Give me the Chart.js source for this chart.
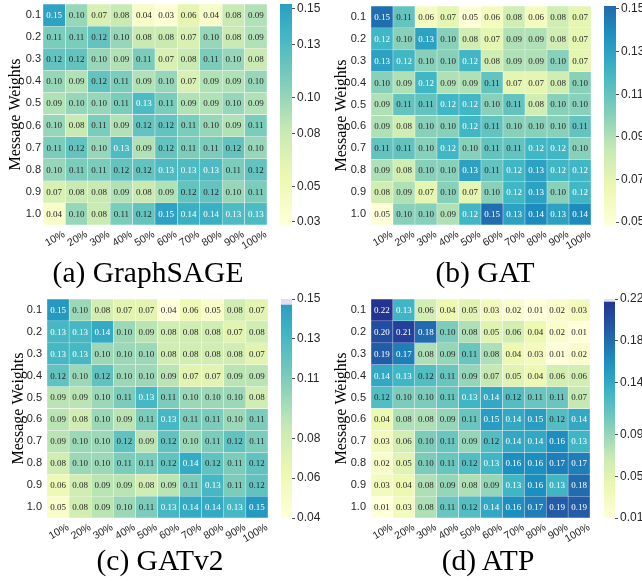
<!DOCTYPE html>
<html>
<head>
<meta charset="utf-8">
<script src="https://cdn.jsdelivr.net/npm/chart.js@4.4.1/dist/chart.umd.min.js"></script>
<style>
body { margin: 0; background: #fff; width: 642px; height: 583px; position: relative; overflow: hidden; }
canvas { position: absolute; }
.cap { position: absolute; width: 300px; text-align: center; font: 29.5px 'Liberation Serif', 'Times New Roman', serif; line-height: 28px; color: #000; }
</style>
</head>
<body>
<canvas id="hmA" width="270" height="255" style="left:0;top:0"></canvas>
<canvas id="cbA" width="56" height="235" style="left:270px;top:0"></canvas>
<canvas id="hmB" width="268" height="255" style="left:326px;top:0"></canvas>
<canvas id="cbB" width="48" height="235" style="left:594px;top:0"></canvas>
<canvas id="hmC" width="271" height="255" style="left:0;top:294px"></canvas>
<canvas id="cbC" width="56" height="242" style="left:270px;top:286px"></canvas>
<canvas id="hmD" width="268" height="255" style="left:326px;top:294px"></canvas>
<canvas id="cbD" width="48" height="242" style="left:594px;top:286px"></canvas>
<div class="cap" id="capA" style="left:-2px;top:258px"></div>
<div class="cap" id="capB" style="left:335px;top:258px"></div>
<div class="cap" id="capC" style="left:10px;top:545.5px"></div>
<div class="cap" id="capD" style="left:338px;top:545.5px"></div>
<script>
// rows = message weights, columns = percentage
var rowLabels = ['0.1', '0.2', '0.3', '0.4', '0.5', '0.6', '0.7', '0.8', '0.9', '1.0'];
var colLabels = ['10%', '20%', '30%', '40%', '50%', '60%', '70%', '80%', '90%', '100%'];

var sageVals = [
    [0.15, 0.10, 0.07, 0.08, 0.04, 0.03, 0.06, 0.04, 0.08, 0.09],
    [0.11, 0.11, 0.12, 0.10, 0.08, 0.08, 0.07, 0.10, 0.08, 0.09],
    [0.12, 0.12, 0.10, 0.09, 0.11, 0.07, 0.08, 0.11, 0.10, 0.08],
    [0.10, 0.09, 0.12, 0.11, 0.09, 0.10, 0.07, 0.09, 0.09, 0.10],
    [0.09, 0.10, 0.10, 0.11, 0.13, 0.11, 0.09, 0.09, 0.10, 0.09],
    [0.10, 0.08, 0.11, 0.09, 0.12, 0.12, 0.11, 0.10, 0.09, 0.11],
    [0.11, 0.12, 0.10, 0.13, 0.09, 0.12, 0.11, 0.11, 0.12, 0.10],
    [0.10, 0.11, 0.11, 0.12, 0.12, 0.13, 0.13, 0.13, 0.11, 0.12],
    [0.07, 0.08, 0.08, 0.09, 0.08, 0.09, 0.12, 0.12, 0.10, 0.11],
    [0.04, 0.10, 0.08, 0.11, 0.12, 0.15, 0.14, 0.14, 0.13, 0.13]
];
var gatVals = [
    [0.15, 0.11, 0.06, 0.07, 0.05, 0.06, 0.08, 0.06, 0.08, 0.07],
    [0.12, 0.10, 0.13, 0.10, 0.08, 0.07, 0.09, 0.09, 0.08, 0.07],
    [0.13, 0.12, 0.10, 0.10, 0.12, 0.08, 0.09, 0.09, 0.10, 0.07],
    [0.10, 0.09, 0.12, 0.09, 0.09, 0.11, 0.07, 0.07, 0.08, 0.10],
    [0.09, 0.11, 0.11, 0.12, 0.12, 0.10, 0.11, 0.08, 0.10, 0.10],
    [0.09, 0.08, 0.10, 0.10, 0.12, 0.11, 0.10, 0.10, 0.10, 0.11],
    [0.11, 0.11, 0.10, 0.12, 0.10, 0.11, 0.11, 0.12, 0.12, 0.10],
    [0.09, 0.08, 0.10, 0.10, 0.13, 0.11, 0.12, 0.13, 0.12, 0.12],
    [0.08, 0.09, 0.07, 0.10, 0.07, 0.10, 0.12, 0.13, 0.10, 0.12],
    [0.05, 0.10, 0.10, 0.09, 0.12, 0.15, 0.13, 0.14, 0.13, 0.14]
];
var gatv2Vals = [
    [0.15, 0.10, 0.08, 0.07, 0.07, 0.04, 0.06, 0.05, 0.08, 0.07],
    [0.13, 0.13, 0.14, 0.10, 0.09, 0.08, 0.08, 0.08, 0.07, 0.08],
    [0.13, 0.13, 0.10, 0.10, 0.10, 0.08, 0.08, 0.08, 0.08, 0.07],
    [0.12, 0.10, 0.12, 0.10, 0.10, 0.09, 0.07, 0.07, 0.09, 0.09],
    [0.09, 0.09, 0.10, 0.11, 0.13, 0.11, 0.10, 0.10, 0.10, 0.08],
    [0.09, 0.08, 0.10, 0.09, 0.11, 0.13, 0.11, 0.11, 0.10, 0.11],
    [0.09, 0.10, 0.10, 0.12, 0.09, 0.12, 0.10, 0.11, 0.12, 0.11],
    [0.08, 0.10, 0.10, 0.11, 0.11, 0.12, 0.14, 0.12, 0.11, 0.12],
    [0.06, 0.08, 0.09, 0.09, 0.08, 0.09, 0.11, 0.13, 0.11, 0.12],
    [0.05, 0.08, 0.09, 0.10, 0.11, 0.13, 0.14, 0.14, 0.13, 0.15]
];
var atpVals = [
    [0.22, 0.13, 0.06, 0.04, 0.05, 0.03, 0.02, 0.01, 0.02, 0.03],
    [0.20, 0.21, 0.18, 0.10, 0.08, 0.05, 0.06, 0.04, 0.02, 0.01],
    [0.19, 0.17, 0.08, 0.09, 0.11, 0.08, 0.04, 0.03, 0.01, 0.02],
    [0.14, 0.13, 0.12, 0.11, 0.09, 0.07, 0.05, 0.04, 0.06, 0.06],
    [0.12, 0.10, 0.10, 0.11, 0.13, 0.14, 0.12, 0.11, 0.11, 0.07],
    [0.04, 0.08, 0.08, 0.09, 0.11, 0.15, 0.14, 0.15, 0.12, 0.14],
    [0.03, 0.06, 0.10, 0.11, 0.09, 0.12, 0.14, 0.14, 0.16, 0.13],
    [0.02, 0.05, 0.10, 0.11, 0.12, 0.13, 0.16, 0.16, 0.17, 0.17],
    [0.03, 0.04, 0.08, 0.09, 0.08, 0.09, 0.13, 0.16, 0.13, 0.18],
    [0.01, 0.03, 0.08, 0.11, 0.12, 0.14, 0.16, 0.17, 0.19, 0.19]
];

var sageTicks = [0.03, 0.05, 0.08, 0.10, 0.13, 0.15];
var gatTicks = [0.05, 0.07, 0.09, 0.11, 0.13, 0.15];
var gatv2Ticks = [0.04, 0.06, 0.08, 0.11, 0.13, 0.15];
var atpTicks = [0.01, 0.05, 0.09, 0.14, 0.18, 0.22];

var titles = ['(a) GraphSAGE', '(b) GAT', '(c) GATv2', '(d) ATP'];

var SERIF = "'Liberation Serif', 'Times New Roman', serif";
Chart.defaults.font.family = "'Liberation Sans', Arial, sans-serif";
Chart.defaults.color = '#262626';
Chart.defaults.animation = false;
Chart.defaults.plugins.legend.display = false;
Chart.defaults.plugins.tooltip.enabled = false;

var YLGNBU = [[255,255,217],[237,248,177],[199,233,180],[127,205,187],[65,182,196],
              [29,145,192],[34,94,168],[37,52,148],[8,29,88]];

function ylgnbu(t) {
    t = Math.max(0, Math.min(1, t));
    var n = YLGNBU.length - 1;
    var p = t * n;
    var i = Math.min(Math.floor(p), n - 1);
    var f = p - i;
    return YLGNBU[i].map(function (c, k) { return c + (YLGNBU[i + 1][k] - c) * f; });
}
function rgbStr(c) {
    return 'rgb(' + c.map(Math.round).join(',') + ')';
}
function lum(c) {
    var l = c.map(function (x) {
        x = x / 255;
        return x <= 0.03928 ? x / 12.92 : Math.pow((x + 0.055) / 1.055, 2.4);
    });
    return 0.2126 * l[0] + 0.7152 * l[1] + 0.0722 * l[2];
}
function valueColor(v, cm) {
    return ylgnbu(cm.hi * (v - cm.cmin) / (cm.cmax - cm.cmin));
}

// writes the number in each cell
var cellText = {
    id: 'cellText',
    afterDatasetsDraw: function (chart) {
        var ctx = chart.ctx;
        ctx.save();
        ctx.font = '9px ' + SERIF;
        ctx.textAlign = 'center';
        ctx.textBaseline = 'middle';
        chart.data.datasets.forEach(function (ds, i) {
            chart.getDatasetMeta(i).data.forEach(function (bar, j) {
                var p = bar.getProps(['x', 'y', 'base'], true);
                ctx.fillStyle = lum(ds.rgb[j]) > 0.42 ? '#262626' : '#ffffff';
                ctx.fillText(ds.values[j].toFixed(2), p.x, (p.y + p.base) / 2 + 0.5);
            });
        });
        ctx.restore();
    }
};

function heatmap(id, vals, cm, g) {
    var datasets = rowLabels.map(function (r, i) {
        var rgb = vals[i].map(function (v) { return valueColor(v, cm); });
        return {
            label: r,
            data: colLabels.map(function () { return 1; }),
            values: vals[i],
            rgb: rgb,
            backgroundColor: rgb.map(rgbStr),
            borderColor: 'rgba(255,255,255,0.5)',
            borderWidth: 0.5,
            borderSkipped: false,
            barPercentage: 1,
            categoryPercentage: 1
        };
    });
    new Chart(document.getElementById(id), {
        type: 'bar',
        data: { labels: colLabels, datasets: datasets },
        options: {
            responsive: false,
            layout: { padding: { top: g.top, right: g.right, left: 0, bottom: 0 } },
            scales: {
                x: {
                    stacked: true,
                    grid: { display: false, drawTicks: false },
                    border: { display: false },
                    ticks: { autoSkip: false, minRotation: 30, maxRotation: 30, labelOffset: 10, padding: 3,
                             font: { size: 10.5 } },
                    afterFit: function (s) { s.height = g.xh; s.paddingLeft = 0; s.paddingRight = 0; }
                },
                y: {
                    stacked: true,
                    reverse: true,
                    min: 0,
                    max: rowLabels.length,
                    grid: { display: false, drawTicks: false },
                    border: { display: false },
                    afterBuildTicks: function (s) {
                        s.ticks = rowLabels.map(function (r, i) { return { value: i + 0.5 }; });
                    },
                    ticks: { autoSkip: false, padding: g.tickPad, font: { size: 11 },
                             callback: function (v, i) { return rowLabels[i]; } },
                    title: { display: true, text: 'Message Weights', color: '#000',
                             font: { family: SERIF, size: 16 }, padding: { top: g.titlePad, bottom: 0 } },
                    afterFit: function (s) { s.width = g.yw; s.paddingTop = 0; s.paddingBottom = 0; }
                }
            }
        },
        plugins: [cellText]
    });
}

function colorbar(id, cm, ticks, g) {
    new Chart(document.getElementById(id), {
        type: 'bar',
        data: {
            labels: [''],
            datasets: [{
                data: [[cm.cmin, cm.cmax]],
                backgroundColor: function (c) {
                    var chart = c.chart;
                    if (!chart.chartArea) return rgbStr(ylgnbu(cm.hi / 2));
                    var ys = chart.scales.y;
                    var grad = chart.ctx.createLinearGradient(0, ys.getPixelForValue(cm.cmin), 0, ys.getPixelForValue(cm.cmax));
                    for (var k = 0; k <= 24; k++) {
                        grad.addColorStop(k / 24, rgbStr(ylgnbu(cm.hi * k / 24)));
                    }
                    return grad;
                },
                barPercentage: 1, categoryPercentage: 1, grouped: false
            }, {
                data: [[cm.cmax, cm.ymax]],
                backgroundColor: '#dde0ee',
                barPercentage: 1, categoryPercentage: 1, grouped: false
            }]
        },
        options: {
            responsive: false,
            layout: { padding: { left: g.left, top: g.top, bottom: g.bottom, right: 0 } },
            scales: {
                x: { display: false },
                y: {
                    position: 'right',
                    min: cm.ymin,
                    max: cm.ymax,
                    grid: { drawOnChartArea: false, drawTicks: true, tickLength: 3, color: '#262626', lineWidth: 0.8 },
                    border: { display: false },
                    afterBuildTicks: function (s) {
                        s.ticks = ticks.map(function (v) { return { value: v }; });
                    },
                    ticks: { padding: 2, font: { size: 12 },
                             callback: function (v) { return v.toFixed(2); } },
                    afterFit: function (s) { s.width = g.w; s.paddingTop = 0; s.paddingBottom = 0; }
                }
            }
        }
    });
}

var cmA = { ymin: 0.0283, ymax: 0.1528, cmin: 0.0283, cmax: 0.1528, hi: 0.58 };
var cmB = { ymin: 0.0486, ymax: 0.1514, cmin: 0.0486, cmax: 0.1514, hi: 0.72 };
var cmC = { ymin: 0.04, ymax: 0.15, cmin: 0.04, cmax: 0.147, hi: 0.58 };
var cmD = { ymin: 0.01, ymax: 0.22, cmin: 0.01, cmax: 0.217, hi: 0.87 };

heatmap('hmA', sageVals, cmA, { top: 4, right: 3, xh: 30, yw: 43, tickPad: 2, titlePad: 6 });
heatmap('hmB', gatVals, cmB, { top: 6, right: 3, xh: 30, yw: 45, tickPad: 5, titlePad: 6.4 });
heatmap('hmC', gatv2Vals, cmC, { top: 5, right: 3, xh: 31, yw: 47, tickPad: 5, titlePad: 9.4 });
heatmap('hmD', atpVals, cmD, { top: 5, right: 4, xh: 31, yw: 45, tickPad: 5, titlePad: 6.4 });

colorbar('cbA', cmA, sageTicks, { left: 10, top: 4, bottom: 10, w: 34 });
colorbar('cbB', cmB, gatTicks, { left: 10, top: 6, bottom: 10, w: 26 });
colorbar('cbC', cmC, gatv2Ticks, { left: 11, top: 13, bottom: 10, w: 34 });
colorbar('cbD', cmD, atpTicks, { left: 10, top: 13, bottom: 10, w: 27 });

['capA', 'capB', 'capC', 'capD'].forEach(function (id, i) {
    document.getElementById(id).textContent = titles[i];
});
</script>
</body>
</html>
